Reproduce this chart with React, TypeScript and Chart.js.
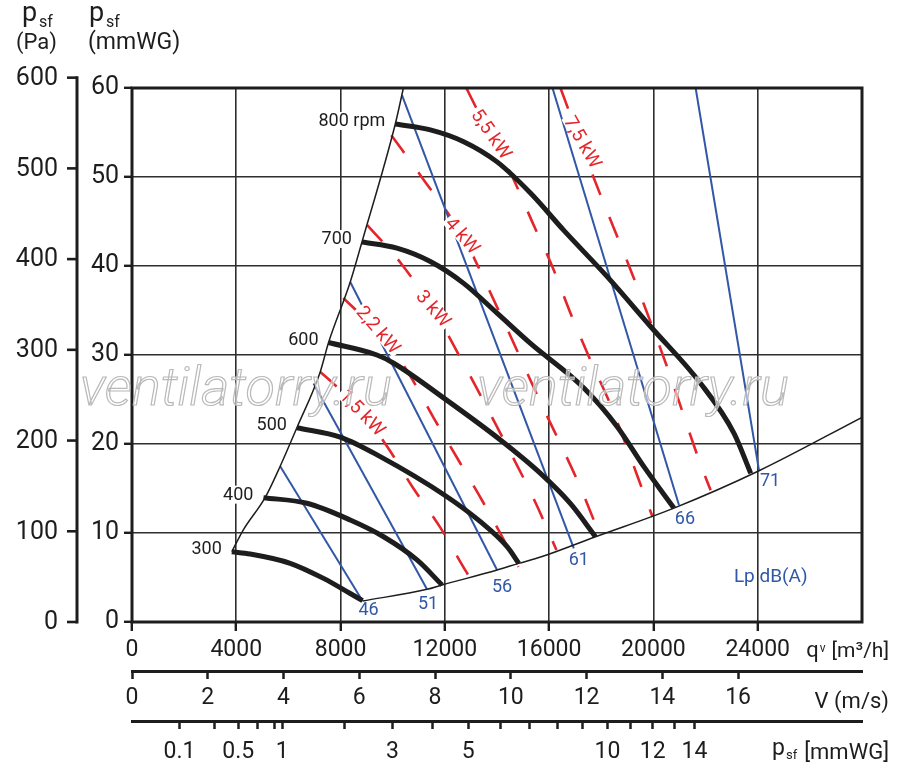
import React, { useEffect, useRef } from "react";
import { Chart, registerables } from "chart.js";

Chart.register(...registerables);

// ---------------- data ----------------
const qTicks = [0, 4000, 8000, 12000, 16000, 20000, 24000];
const qMax = 28000;
const mmTicks = [0, 10, 20, 30, 40, 50, 60];
const paTicks = [0, 100, 200, 300, 400, 500, 600];
const vTicks = [0, 2, 4, 6, 8, 10, 12, 14, 16];
const vMax = 19.27;
const pdTicks = [0.1, 0.3, 0.5, 0.7, 0.9, 1, 2, 3, 4, 5, 6, 7, 8, 9, 10, 11, 12, 13, 14];
const pdLabelled = [0.1, 0.5, 1, 3, 5, 10, 12, 14];
const PA_PER_MMWG = 9.81;
const PD_PER_V2 = 0.0635;

// fan curves (q m3/h, psf mmWG)
const rpmNames = ["300", "400", "500", "600", "700", "800 rpm"];
const rpm300Q = [3828, 4531, 6067, 7347, 8371, 8844];
const rpm300H = [7.9, 7.64, 6.6, 4.9, 3.2, 2.4];
const rpm400Q = [5042, 6708, 8371, 9650, 10932, 11892];
const rpm400H = [13.97, 13.34, 11.46, 9.58, 6.97, 4.16];
const rpm500Q = [6324, 8013, 9523, 11981, 13363, 14387, 14835];
const rpm500H = [21.83, 20.75, 18.58, 14.27, 11.27, 8.46, 6.59];
const rpm600Q = [7539, 9395, 10022, 12083, 14131, 15667, 16819, 17779];
const rpm600H = [31.4, 30.0, 29.1, 24.9, 20.45, 16.7, 13.3, 9.58];
const rpm700Q = [8820, 10163, 11443, 12723, 14003, 15283, 17331, 18611, 19635, 20787];
const rpm700H = [42.7, 42.0, 40.5, 38.05, 34.7, 31.3, 26.3, 21.95, 17.45, 12.8];
const rpm800Q = [10099, 11443, 12723, 14003, 15283, 16563, 18227, 19891, 21811, 23091, 23731];
const rpm800H = [55.96, 55.3, 53.97, 51.7, 48.2, 44.0, 38.8, 33.2, 26.8, 21.2, 16.7];

// working range boundaries
const leftBoundQ = [3828, 4260, 5110, 5683, 6324, 7219, 7539, 8371, 8820, 10099, 10410];
const leftBoundH = [7.9, 10.3, 14.0, 17.5, 21.83, 28.1, 31.4, 38.2, 42.7, 55.96, 60];
const bottomBoundQ = [8844, 11315, 11892, 14003, 14835, 15670, 17779, 20787, 24051, 28000];
const bottomBoundH = [2.36, 3.67, 4.16, 5.84, 6.59, 7.3, 9.58, 12.8, 17.0, 23.0];

// sound pressure lines Lp dB(A)
const lpNames = ["46", "51", "56", "61", "66", "71"];
const lpTopQ = [5683, 6963, 8371, 10355, 16128, 21619];
const lpTopH = [17.5, 26.8, 38.2, 59.2, 60, 60];
const lpBotQ = [8844, 11315, 14003, 16947, 20979, 24051];
const lpBotH = [2.36, 3.67, 5.84, 8.28, 13.15, 17.0];

// power lines (kW)
const kwNames = ["1,5 kW", "2,2 kW", "3 kW", "4 kW", "5,5 kW", "7,5 kW"];
const kw15Q = [7219, 7795, 8755, 9792, 10752, 11827, 12787, 12979];
const kw15H = [28.1, 26.6, 23.8, 19.7, 15.2, 10.6, 5.8, 4.9];
const kw22Q = [8102, 8678, 9715, 10598, 11558, 12518, 13478, 14822];
const kw22H = [36.4, 34.8, 31.7, 28.0, 23.0, 18.2, 13.4, 6.2];
const kw3Q = [9024, 10291, 11558, 12787, 14131, 15398, 16280];
const kw3H = [44.6, 40.4, 35.1, 28.65, 21.2, 13.9, 8.1];
const kw4Q = [9946, 11136, 12672, 14016, 15590, 17203, 17971];
const kw4H = [54.7, 49.9, 43.4, 35.3, 25.2, 15.1, 9.55];
const kw55Q = [12826, 13248, 14592, 15360, 16128, 16819, 17587, 18355, 19046, 19699, 19968];
const kw55H = [60, 57.5, 50, 44.9, 39.9, 34.7, 29.4, 24.4, 19.1, 13.9, 11.8];
const kw75Q = [16435, 17779, 19200, 20544, 21773, 22195];
const kw75H = [60, 49.4, 39.0, 28.5, 18.0, 14.8];
// label anchors on the kW lines (q, psf)
const kwLabelQ = [8832, 9446, 11558, 12672, 13780, 17280];
const kwLabelH = [23.5, 32.8, 35.2, 43.4, 54.8, 53.9];
const lpUnitQ = 24499;
const lpUnitH = 5.0;

// ---------------- styles ----------------
const FONT = "Roboto";
const INK = "#1d1d1d";
const GRID = "#2e2e2e";
const RED = "#e4262c";
const BLUE = "#3157a6";
const KW_ANGLES = [46, 49, 49, 49, 55, 60];
const LP_LABEL_OFFSETS = [
  [6, 10],
  [1, 15],
  [5, 17],
  [5, 12],
  [6, 15],
  [11, 11],
];

const pts = (q: number[], h: number[]) => q.map((x, i) => ({ x, y: h[i] }));

const fanSets = [
  [rpm300Q, rpm300H],
  [rpm400Q, rpm400H],
  [rpm500Q, rpm500H],
  [rpm600Q, rpm600H],
  [rpm700Q, rpm700H],
  [rpm800Q, rpm800H],
];
const kwSets = [
  [kw15Q, kw15H],
  [kw22Q, kw22H],
  [kw3Q, kw3H],
  [kw4Q, kw4H],
  [kw55Q, kw55H],
  [kw75Q, kw75H],
];

function buildDatasets() {
  const ds: any[] = [];
  fanSets.forEach(([q, h], i) =>
    ds.push({
      label: rpmNames[i],
      data: pts(q, h),
      borderColor: INK,
      borderWidth: 5,
      cubicInterpolationMode: "monotone",
      pointRadius: 0,
      fill: false,
      order: 1,
    })
  );
  ds.push({
    label: "limit-left",
    data: pts(leftBoundQ, leftBoundH),
    borderColor: INK,
    borderWidth: 1.5,
    cubicInterpolationMode: "monotone",
    pointRadius: 0,
    fill: false,
    order: 1,
  });
  ds.push({
    label: "limit-bottom",
    data: pts(bottomBoundQ, bottomBoundH),
    borderColor: INK,
    borderWidth: 1.5,
    cubicInterpolationMode: "monotone",
    pointRadius: 0,
    fill: false,
    order: 1,
  });
  lpNames.forEach((n, i) =>
    ds.push({
      label: "Lp " + n,
      data: [
        { x: lpTopQ[i], y: lpTopH[i] },
        { x: lpBotQ[i], y: lpBotH[i] },
      ],
      borderColor: BLUE,
      borderWidth: 2,
      pointRadius: 0,
      fill: false,
      order: 2,
    })
  );
  kwSets.forEach(([q, h], i) =>
    ds.push({
      label: kwNames[i],
      data: pts(q, h),
      borderColor: RED,
      borderWidth: 2.6,
      borderDash: [22, 24],
      cubicInterpolationMode: "monotone",
      pointRadius: 0,
      fill: false,
      order: 3,
    })
  );
  return ds;
}

function boxedText(ctx: CanvasRenderingContext2D, text: string, x: number, y: number, align: CanvasTextAlign, color: string, font: string) {
  ctx.font = font;
  const w = ctx.measureText(text).width;
  const left = align === "right" ? x - w : align === "center" ? x - w / 2 : x;
  ctx.fillStyle = "#fff";
  ctx.fillRect(left - 2, y - 9, w + 4, 18);
  ctx.fillStyle = color;
  ctx.textAlign = align;
  ctx.textBaseline = "middle";
  ctx.fillText(text, x, y + 1);
}

const annotPlugin = {
  id: "annot",
  afterDatasetsDraw(chart: any) {
    const { ctx, chartArea } = chart;
    const xs = chart.scales.x;
    const ys = chart.scales.y;
    const px = (q: number) => xs.getPixelForValue(q);
    const py = (h: number) => ys.getPixelForValue(h);
    ctx.save();

    // kW labels along the dashed lines
    kwNames.forEach((name, i) => {
      const cx = px(kwLabelQ[i]);
      const cy = py(kwLabelH[i]);
      ctx.save();
      ctx.translate(cx, cy);
      ctx.rotate((KW_ANGLES[i] * Math.PI) / 180);
      ctx.font = `19px ${FONT}`;
      const w = ctx.measureText(name).width;
      ctx.fillStyle = "#fff";
      ctx.fillRect(-w / 2 - 2, -7, w + 4, 14);
      ctx.fillStyle = RED;
      ctx.textAlign = "center";
      ctx.textBaseline = "middle";
      ctx.fillText(name, 0, 1);
      ctx.restore();
    });

    // rpm labels
    fanSets.forEach(([q, h], i) => {
      boxedText(ctx, rpmNames[i], px(q[0]) - 10, py(h[0]) - 3, "right", INK, `18px ${FONT}`);
    });

    // Lp labels
    ctx.font = `18px ${FONT}`;
    ctx.fillStyle = BLUE;
    ctx.textAlign = "center";
    ctx.textBaseline = "middle";
    lpNames.forEach((n, i) => {
      const [dx, dy] = LP_LABEL_OFFSETS[i];
      ctx.fillText(n, px(lpBotQ[i]) + dx, py(lpBotH[i]) + dy);
    });
    ctx.font = `19px ${FONT}`;
    ctx.fillText("Lp dB(A)", px(lpUnitQ), py(lpUnitH));

    // plot frame
    ctx.strokeStyle = INK;
    ctx.lineWidth = 3;
    ctx.strokeRect(chartArea.left, chartArea.top, chartArea.right - chartArea.left, chartArea.bottom - chartArea.top);
    ctx.restore();
  },
  afterDraw(chart: any) {
    const { ctx, chartArea } = chart;
    const ys = chart.scales.y;
    ctx.save();

    // Pa axis
    const axX = chartArea.left - 55;
    const top = ys.getPixelForValue(paTicks[paTicks.length - 1] / PA_PER_MMWG);
    const bot = ys.getPixelForValue(0);
    ctx.strokeStyle = INK;
    ctx.lineWidth = 3;
    ctx.beginPath();
    ctx.moveTo(axX, top - 1.5);
    ctx.lineTo(axX, bot + 1.5);
    ctx.stroke();
    ctx.font = `25px ${FONT}`;
    ctx.fillStyle = INK;
    ctx.textAlign = "right";
    ctx.textBaseline = "middle";
    paTicks.forEach((p) => {
      const y = ys.getPixelForValue(p / PA_PER_MMWG);
      ctx.lineWidth = 2.6;
      ctx.beginPath();
      ctx.moveTo(axX - 10, y);
      ctx.lineTo(axX, y);
      ctx.stroke();
      ctx.fillText(String(p), axX - 19, y + 1);
    });

    // axis titles (top-left)
    ctx.textAlign = "left";
    ctx.textBaseline = "alphabetic";
    ctx.font = `27px ${FONT}`;
    ctx.fillText("p", 22, 21);
    ctx.fillText("p", 89, 21);
    ctx.font = `16px ${FONT}`;
    ctx.fillText("sf", 39, 27);
    ctx.fillText("sf", 106, 27);
    ctx.font = `22px ${FONT}`;
    ctx.fillText("(Pa)", 16, 49);
    ctx.font = `23px ${FONT}`;
    ctx.fillText("(mmWG)", 88, 49);

    // bottom axis titles
    const right = chartArea.right + 27;
    ctx.textAlign = "right";
    ctx.font = `21px ${FONT}`;
    const q1 = "[m³/h]";
    const wq1 = ctx.measureText(q1).width;
    ctx.fillText(q1, right, 657);
    ctx.font = `12px ${FONT}`;
    ctx.fillText("v", right - wq1 - 6, 652);
    const wv = ctx.measureText("v").width;
    ctx.font = `22px ${FONT}`;
    ctx.fillText("q", right - wq1 - 6 - wv - 1, 657);

    ctx.font = `22px ${FONT}`;
    ctx.fillText("V (m/s)", right, 708);

    ctx.font = `22px ${FONT}`;
    const p1 = "[mmWG]";
    const wp1 = ctx.measureText(p1).width;
    ctx.fillText(p1, right, 759);
    ctx.font = `13px ${FONT}`;
    ctx.fillText("sf", right - wp1 - 7, 759);
    const wsf = ctx.measureText("sf").width;
    ctx.font = `23px ${FONT}`;
    ctx.fillText("p", right - wp1 - 7 - wsf - 1, 755);

    // watermark
    ctx.font = `italic 300 54px ${FONT}`;
    ctx.textAlign = "left";
    ctx.textBaseline = "alphabetic";
    ctx.lineWidth = 1.2;
    ctx.strokeStyle = "#b9b9b9";
    ctx.fillStyle = "rgba(255,255,255,0.55)";
    [80, 477].forEach((wx) => {
      ctx.fillText("ventilatorry.ru", wx, 405);
      ctx.strokeText("ventilatorry.ru", wx, 405);
    });
    ctx.restore();
  },
};

export default function App() {
  const ref = useRef<HTMLCanvasElement>(null);
  useEffect(() => {
    const canvas = ref.current;
    if (!canvas) return;
    const tickFont = (size: number) => ({ family: FONT, size });
    const chart = new Chart(canvas, {
      type: "line",
      data: { datasets: buildDatasets() },
      options: {
        responsive: false,
        animation: false,
        devicePixelRatio: 1,
        layout: { padding: { top: 88, right: 38, bottom: 5, left: 0 } },
        plugins: { legend: { display: false }, tooltip: { enabled: false } },
        elements: { line: { borderCapStyle: "butt", borderJoinStyle: "round" } },
        scales: {
          x: {
            type: "linear",
            position: "bottom",
            weight: 0,
            min: 0,
            max: qMax,
            afterBuildTicks: (s: any) => {
              s.ticks = qTicks.map((v) => ({ value: v }));
            },
            afterFit: (s: any) => {
              s.height = 49;
            },
            ticks: {
              autoSkip: false,
              maxRotation: 0,
              font: tickFont(23),
              color: INK,
              padding: 5,
              callback: (v: any) => String(v),
            },
            grid: { color: GRID, lineWidth: 1.6, drawTicks: true, tickLength: 9, tickWidth: 2.4, tickColor: INK },
            border: { display: false },
          },
          v: {
            type: "linear",
            position: "bottom",
            weight: 1,
            min: 0,
            max: vMax,
            afterBuildTicks: (s: any) => {
              s.ticks = vTicks.map((v) => ({ value: v }));
            },
            afterFit: (s: any) => {
              s.height = 50;
            },
            ticks: {
              autoSkip: false,
              maxRotation: 0,
              font: tickFont(23),
              color: INK,
              padding: 5,
              callback: (v: any) => String(v),
            },
            grid: { drawOnChartArea: false, drawTicks: true, tickLength: 8, tickWidth: 2.5, tickColor: INK },
            border: { display: true, width: 3, color: INK },
          },
          p: {
            type: "linear",
            position: "bottom",
            weight: 2,
            min: 0,
            max: vMax,
            afterBuildTicks: (s: any) => {
              s.ticks = pdTicks.map((p) => ({ value: Math.sqrt(p / PD_PER_V2) }));
            },
            afterFit: (s: any) => {
              s.height = 45;
            },
            ticks: {
              autoSkip: false,
              maxRotation: 0,
              font: tickFont(23),
              color: INK,
              padding: 9,
              callback: (_v: any, i: number) => (pdLabelled.includes(pdTicks[i]) ? String(pdTicks[i]) : ""),
            },
            grid: { drawOnChartArea: false, drawTicks: true, tickLength: 8, tickWidth: 2.5, tickColor: INK },
            border: { display: true, width: 3, color: INK },
          },
          y: {
            type: "linear",
            position: "left",
            min: 0,
            max: 60,
            afterBuildTicks: (s: any) => {
              s.ticks = mmTicks.map((v) => ({ value: v }));
            },
            afterFit: (s: any) => {
              s.width = 132;
            },
            ticks: {
              autoSkip: false,
              font: tickFont(25),
              color: INK,
              padding: 5,
              callback: (v: any) => String(v),
            },
            grid: { color: GRID, lineWidth: 1.6, drawTicks: true, tickLength: 8, tickWidth: 2.4, tickColor: INK },
            border: { display: false },
          },
        },
      } as any,
      plugins: [annotPlugin],
    });
    return () => chart.destroy();
  }, []);
  return (
    <div style={{ position: "absolute", left: 0, top: 0, width: 900, height: 771, background: "#fff" }}>
      <canvas ref={ref} width={900} height={771} style={{ display: "block", width: 900, height: 771 }} />
    </div>
  );
}
